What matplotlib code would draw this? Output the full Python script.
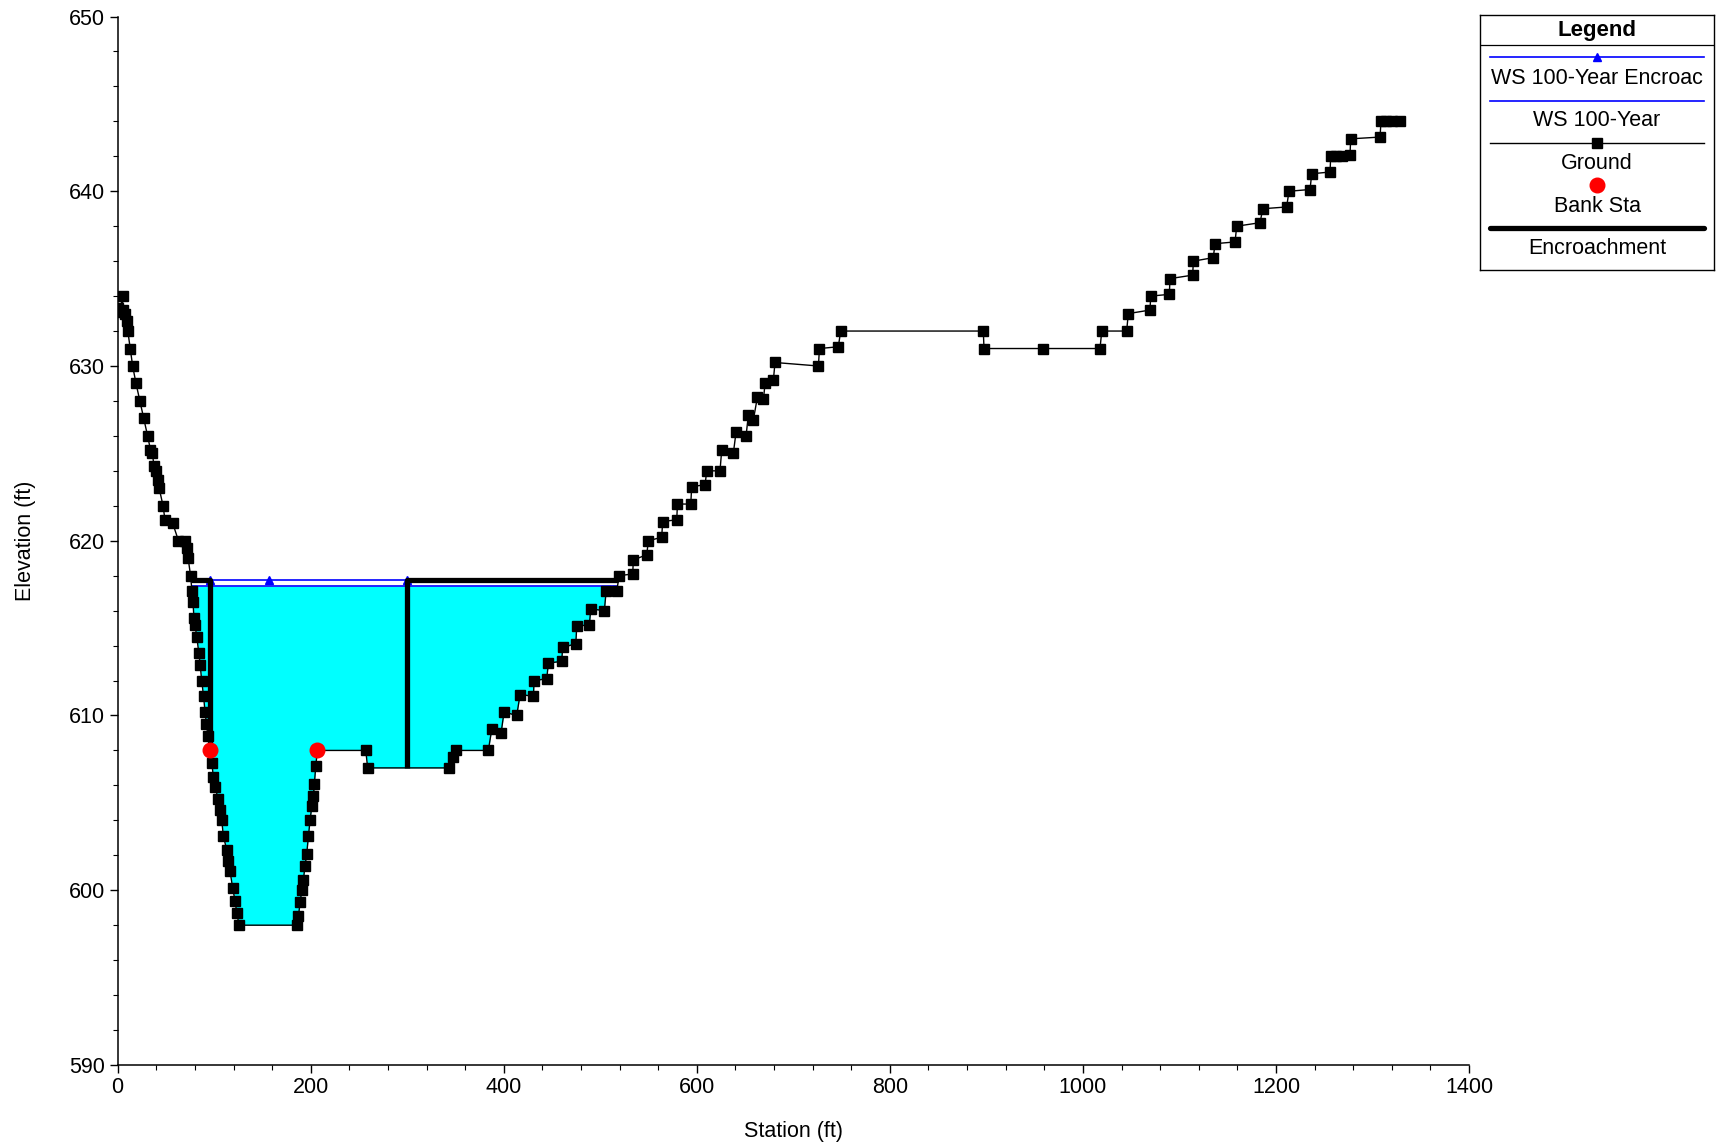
import matplotlib.pyplot as plt
from matplotlib.ticker import MultipleLocator
import numpy as np

plt.rcParams['font.family'] = ['Liberation Sans', 'DejaVu Sans']

# Cross-section ground points (station ft, elevation ft)
ground_sta = [0, 2.5, 5, 5.5, 8, 9.5, 10.5, 13, 15.5, 19, 23, 27, 31, 34, 36, 37.5, 40, 42, 43, 47,
              49, 57, 63, 70, 71.5, 73, 75.5, 77, 78, 79, 80, 82, 84, 85.5, 87, 89, 90.5, 92, 93.5, 95.5,
              97.5, 99.1, 100.9, 104.3, 106, 107.8, 109.5, 113, 114.7, 116.4, 119.2, 121.6, 123.4, 125.8,
              185.5, 187.2, 189, 190.7, 192.4, 194.1, 195.9, 197.6, 199.3, 201.1, 202.8, 203.8, 205.2, 206.9,
              257, 259, 343, 347, 351, 384, 387.5, 397.2, 400.3, 413.4, 416.9, 430.7, 431.4, 444.5, 446.2,
              460, 461, 474.6, 475.6, 488.7, 490.1, 504.2, 506, 517, 519.5, 533.6, 534.2, 548.1, 549.8,
              563.6, 564.6, 579.2, 579.9, 593.7, 594.7, 608.5, 610.3, 624, 625.8, 637.8, 640.6, 651, 653.4,
              658.5, 662.7, 669, 670.7, 679.3, 681, 726, 727, 746.6, 749, 896.8, 897.5, 958.3, 1017.7,
              1019.5, 1045.3, 1047, 1069.5, 1070.2, 1089.5, 1090.2, 1113.7, 1114.4, 1135, 1136.9, 1157.6,
              1159.3, 1183.5, 1186.3, 1211, 1213.5, 1235.3, 1237, 1256, 1256.7, 1262, 1268, 1276.7, 1277.4,
              1307.8, 1308.8, 1314, 1320, 1328.5]
ground_elev = [633.3, 633.1, 634, 633.2, 633, 632.6, 632, 631, 630, 629, 628, 627, 626, 625.2, 625, 624.3, 624, 623.5, 623, 622,
               621.2, 621, 620, 620, 619.6, 619, 618, 617.1, 616.5, 615.6, 615.2, 614.5, 613.6, 612.9, 612, 611.1, 610.2, 609.5, 608.8, 608,
               607.3, 606.5, 605.9, 605.2, 604.6, 604, 603.1, 602.3, 601.7, 601.1, 600.1, 599.4, 598.7, 598,
               598, 598.5, 599.3, 600, 600.6, 601.4, 602.1, 603.1, 604, 604.8, 605.4, 606.1, 607.1, 608,
               608, 607, 607, 607.6, 608, 608, 609.2, 609, 610.2, 610, 611.2, 611.1, 612, 612.1, 613,
               613.1, 613.9, 614.1, 615.1, 615.2, 616.1, 616, 617.1, 617.1, 618, 618.1, 618.9, 619.2, 620,
               620.2, 621.1, 621.2, 622.1, 622.1, 623.1, 623.2, 624, 624, 625.2, 625, 626.2, 626, 627.2,
               626.9, 628.2, 628.1, 629, 629.2, 630.2, 630, 631, 631.1, 632, 632, 631, 631, 631,
               632, 632, 633, 633.2, 634, 634.1, 635, 635.2, 636, 636.2, 637, 637.1,
               638, 638.2, 639, 639.1, 640, 640.1, 641, 641.1, 642, 642, 642, 642.1, 643,
               643.1, 644, 644, 644, 644]

# Bank stations
bank_sta = [95.5, 206.9]
bank_elev = [608, 608]

# Water surfaces
ws_elev = 617.4
ws_sta = [76.9, 517.0]
ws_enc_sta = [76.3, 95.5, 157, 300, 518.5]
ws_enc_elev = 617.75

# Encroachment stations
enc_left_sta = [76.3, 95.5, 95.5]
enc_left_elev = [617.75, 617.75, 608]
enc_right_sta = [300, 300, 518.5]
enc_right_elev = [607, 617.75, 617.75]

FS = 15.5
MS = 6.6

fig = plt.figure(figsize=(17.23, 11.46), dpi=100)
ax = fig.add_axes([0.0683, 0.0707, 0.7843, 0.9149])

sta = np.array(ground_sta, dtype=float)
gel = np.array(ground_elev, dtype=float)

# water fill between ground and 100-year surface
ax.fill_between(sta, gel, ws_elev, where=(gel < ws_elev) & (sta < 600), interpolate=True,
                color='#00FFFF', linewidth=0, zorder=1)

ax.plot(ws_sta, [ws_elev, ws_elev], color='#0000FF', lw=1.2, zorder=2)
ax.plot(ws_enc_sta, [ws_enc_elev] * len(ws_enc_sta), color='#0000FF', lw=1.2,
        marker='^', ms=5.5, markevery=[1, 2, 3], zorder=2)

ax.plot(enc_left_sta, enc_left_elev, color='black', lw=3.8, solid_capstyle='butt', zorder=3)
ax.plot(enc_right_sta, enc_right_elev, color='black', lw=3.8, solid_capstyle='butt', zorder=3)

ax.plot(sta, gel, color='black', lw=1.0, marker='s', ms=MS, zorder=4)
ax.plot(bank_sta, bank_elev, linestyle='none', marker='o', color='#FF0000', ms=10.5, zorder=5)

ax.set_xlim(0, 1400)
ax.set_ylim(590, 650)
ax.xaxis.set_major_locator(MultipleLocator(200))
ax.xaxis.set_minor_locator(MultipleLocator(40))
ax.yaxis.set_major_locator(MultipleLocator(10))
ax.yaxis.set_minor_locator(MultipleLocator(2))
ax.tick_params(which='major', direction='out', length=6, width=1, labelsize=FS, pad=3)
ax.tick_params(which='minor', direction='out', length=3.5, width=0.8)
for side in ['top', 'right']:
    ax.spines[side].set_visible(False)
for side in ['left', 'bottom']:
    ax.spines[side].set_linewidth(1.1)

ax.set_xlabel('Station (ft)', fontsize=FS, labelpad=16)
ax.set_ylabel('Elevation (ft)', fontsize=FS, labelpad=24)

# boxed legend with samples above each label
lg = fig.add_axes([0.859, 0.7644, 0.1358, 0.2225])
lg.set_xlim(0, 1)
lg.set_ylim(0, 1)
lg.set_xticks([])
lg.set_yticks([])
for s in lg.spines.values():
    s.set_linewidth(1.0)
lg.text(0.5, 0.94, 'Legend', ha='center', va='center', fontsize=16, fontweight='bold')
lg.axhline(0.884, color='black', lw=0.9)

x_s = [0.042, 0.958]
lg.plot(x_s, [0.836, 0.836], color='#0000FF', lw=1.2)
lg.plot([0.5], [0.836], marker='^', color='#0000FF', ms=5.5)
lg.text(0.5, 0.752, 'WS 100-Year Encroac', ha='center', va='center', fontsize=FS)
lg.plot(x_s, [0.664, 0.664], color='#0000FF', lw=1.2)
lg.text(0.5, 0.585, 'WS 100-Year', ha='center', va='center', fontsize=FS)
lg.plot(x_s, [0.5, 0.5], color='black', lw=1.0)
lg.plot([0.5], [0.5], marker='s', color='black', ms=MS)
lg.text(0.5, 0.418, 'Ground', ha='center', va='center', fontsize=FS)
lg.plot([0.5], [0.332], marker='o', color='#FF0000', ms=10.5)
lg.text(0.5, 0.25, 'Bank Sta', ha='center', va='center', fontsize=FS)
lg.plot(x_s, [0.164, 0.164], color='black', lw=3.8, solid_capstyle='round')
lg.text(0.5, 0.083, 'Encroachment', ha='center', va='center', fontsize=FS)

fig.savefig('out.png', dpi=100)
